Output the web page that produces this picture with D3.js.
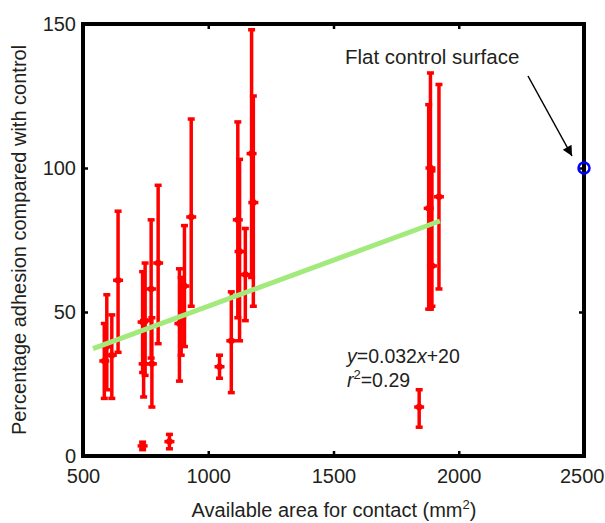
<!DOCTYPE html>
<html>
<head>
<meta charset="utf-8">
<script src="https://cdn.jsdelivr.net/npm/d3@7"></script>
<style>
  html, body { margin: 0; padding: 0; background: #fff; }
  svg { display: block; }
  text { font-family: "Liberation Sans", Arial, sans-serif; fill: #231f20; }
</style>
</head>
<body>
<svg id="chart" width="605" height="523"></svg>
<script>
// ---- data ----
const area  = [585, 595, 615, 640, 738, 742, 748, 772, 775, 800, 738, 845, 885, 892, 905, 932, 1045, 1092, 1118, 1125, 1148, 1173, 1180, 1842, 1880, 1887, 1893, 1921];
const mean  = [33, 38, 35, 61, 46.5, 32, 47, 58, 32, 67, 3.5, 5, 46, 48, 59, 83, 31, 40, 82, 71, 63, 105, 88, 17, 86, 100, 66, 90];
const lower = [20, 23, 20, 36, 29, 20.5, 28, 34, 17, 39, 2.2, 2.5, 26, 35, 38, 52, 27, 22, 48, 40, 47, 62, 52, 10, 51, 51, 52, 58];
const upper = [46, 56, 49, 85, 64, 47, 67, 82, 48, 94, 4.8, 7.5, 65, 62, 80, 117, 35, 57, 116, 103, 79, 148, 125, 23, 122, 133, 99, 129];
const controlArea = [2500];
const controlValue = [100];
const fitX = [540, 1925];
const fitSlope = 0.032, fitIntercept = 20;
const xTicks = [500, 1000, 1500, 2000, 2500];
const yTicks = [0, 50, 100, 150];

const svg = d3.select("#chart");
const x = d3.scaleLinear().domain([500, 2500]).range([83, 584]);
const y = d3.scaleLinear().domain([0, 150]).range([456, 24]);

// error bars
const pts = area.map((a, i) => ({a, m: mean[i], lo: lower[i], hi: upper[i]}));
const g = svg.append("g");
const red = "#ff0000";
pts.forEach(p => {
  g.append("line").attr("x1", x(p.a)).attr("x2", x(p.a)).attr("y1", y(p.lo)).attr("y2", y(p.hi))
    .attr("stroke", red).attr("stroke-width", 3.5);
  [p.lo, p.hi].forEach(v => {
    g.append("line").attr("x1", x(p.a) - 3.5).attr("x2", x(p.a) + 3.5).attr("y1", y(v)).attr("y2", y(v))
      .attr("stroke", red).attr("stroke-width", 3.5);
  });
  g.append("line").attr("x1", x(p.a) - 5).attr("x2", x(p.a) + 5).attr("y1", y(p.m)).attr("y2", y(p.m))
    .attr("stroke", red).attr("stroke-width", 3.5);
  g.append("circle").attr("cx", x(p.a)).attr("cy", y(p.m)).attr("r", 3.3).attr("fill", red);
});

// regression line
svg.append("line")
  .attr("x1", x(fitX[0])).attr("y1", y(fitSlope * fitX[0] + fitIntercept))
  .attr("x2", x(fitX[1])).attr("y2", y(fitSlope * fitX[1] + fitIntercept))
  .attr("stroke", "#a3ea7c").attr("stroke-width", 5);

// frame
svg.append("rect").attr("x", 83).attr("y", 24).attr("width", 501).attr("height", 432)
  .attr("fill", "none").attr("stroke", "#000").attr("stroke-width", 4);

// axes (ticks inward)
const xb = svg.append("g").attr("transform", "translate(0,456)")
  .call(d3.axisBottom(x).tickValues(xTicks).tickSize(-5).tickPadding(13).tickFormat(d3.format("d")));
const xt = svg.append("g").attr("transform", "translate(0,24)")
  .call(d3.axisTop(x).tickValues(xTicks).tickSize(-5).tickFormat(""));
const yl = svg.append("g").attr("transform", "translate(83,0)")
  .call(d3.axisLeft(y).tickValues(yTicks).tickSize(-5).tickPadding(7));
const yr = svg.append("g").attr("transform", "translate(584,0)")
  .call(d3.axisRight(y).tickValues(yTicks).tickSize(-5).tickFormat(""));
[xb, xt, yl, yr].forEach(a => {
  a.select(".domain").remove();
  a.selectAll(".tick line").attr("stroke", "#000").attr("stroke-width", 2.5);
  a.selectAll(".tick text").style("font-size", "20px").style("font-family", "Liberation Sans, Arial, sans-serif").attr("fill", "#231f20");
});
// keep the last x label inside the canvas, as in the reference
xb.selectAll(".tick text").filter(d => d === 2500).attr("text-anchor", "end").attr("x", 20);

// control point
svg.append("circle").attr("cx", x(controlArea[0])).attr("cy", y(controlValue[0])).attr("r", 5.5)
  .attr("fill", "none").attr("stroke", "#0000ff").attr("stroke-width", 2.5);

// annotation
svg.append("defs").append("marker").attr("id", "arrow").attr("viewBox", "0 0 10 10")
  .attr("refX", 10).attr("refY", 5).attr("markerWidth", 15).attr("markerHeight", 10)
  .attr("markerUnits", "userSpaceOnUse").attr("orient", "auto")
  .append("path").attr("d", "M0,0 L10,5 L0,10 z").attr("fill", "#000");
svg.append("line").attr("x1", 528).attr("y1", 76).attr("x2", 572).attr("y2", 156)
  .attr("stroke", "#000").attr("stroke-width", 1.5).attr("marker-end", "url(#arrow)");
svg.append("text").attr("x", 345).attr("y", 64).style("font-size", "20.5px").text("Flat control surface");

// equation
const eq = svg.append("text").attr("x", 347).attr("y", 363).style("font-size", "19.5px");
eq.append("tspan").style("font-style", "italic").text("y");
eq.append("tspan").text("=0.032");
eq.append("tspan").style("font-style", "italic").text("x");
eq.append("tspan").text("+20");
const r2 = svg.append("text").attr("x", 347).attr("y", 387).style("font-size", "19.5px");
r2.append("tspan").style("font-style", "italic").text("r");
r2.append("tspan").attr("dy", -8).style("font-size", "13px").text("2");
r2.append("tspan").attr("dy", 8).text("=0.29");

// axis titles
const xtitle = svg.append("text").attr("x", 334).attr("y", 517).attr("text-anchor", "middle").style("font-size", "20px");
xtitle.append("tspan").text("Available area for contact (mm");
xtitle.append("tspan").attr("dy", -8).style("font-size", "13px").text("2");
xtitle.append("tspan").attr("dy", 8).text(")");

svg.append("text").attr("transform", "translate(26,240) rotate(-90)").attr("text-anchor", "middle")
  .style("font-size", "20px").text("Percentage adhesion compared with control");
</script>
</body>
</html>
